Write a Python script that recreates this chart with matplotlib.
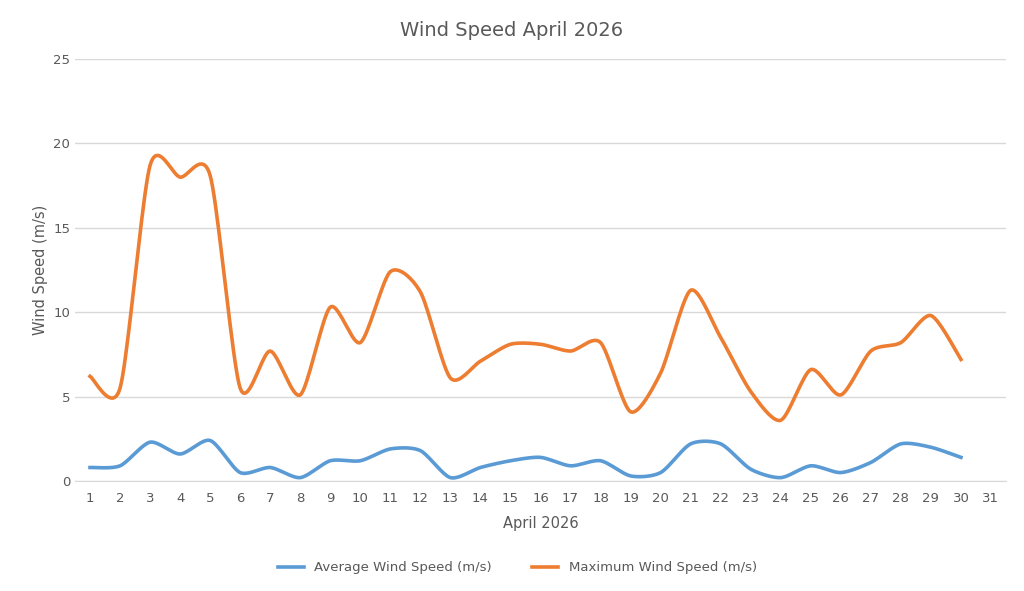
import numpy as np
import matplotlib.pyplot as plt

days = list(range(1, 31))
avg_speed = [0.8, 0.9, 2.3, 1.6, 2.4, 0.5, 0.8, 0.2, 1.2, 1.2, 1.9, 1.8, 0.2, 0.8, 1.2,
             1.4, 0.9, 1.2, 0.3, 0.5, 2.2, 2.2, 0.7, 0.2, 0.9, 0.5, 1.1, 2.2, 2.0, 1.4]
max_speed = [6.2, 5.5, 18.7, 18.0, 18.1, 5.5, 7.7, 5.1, 10.3, 8.2, 12.4, 11.2, 6.1, 7.1, 8.1,
             8.1, 7.7, 8.2, 4.1, 6.4, 11.3, 8.5, 5.3, 3.6, 6.6, 5.1, 7.7, 8.2, 9.8, 7.2]
tick_labels = [str(d) for d in range(1, 32)]


def smooth(x, y, n=20, k=0.13):
    # Catmull-Rom style smoothing like Excel's "smoothed line"
    x = np.asarray(x, float)
    y = np.asarray(y, float)
    px = np.concatenate([[x[0]], x, [x[-1]]])
    py = np.concatenate([[y[0]], y, [y[-1]]])
    xs, ys = [], []
    t = np.linspace(0, 1, n, endpoint=False)
    for i in range(1, len(px) - 2):
        p0, p1, p2, p3 = [np.array([px[j], py[j]]) for j in (i - 1, i, i + 1, i + 2)]
        c1 = p1 + (p2 - p0) * k
        c2 = p2 - (p3 - p1) * k
        pts = ((1 - t) ** 3)[:, None] * p1 + (3 * (1 - t) ** 2 * t)[:, None] * c1 \
            + (3 * (1 - t) * t ** 2)[:, None] * c2 + (t ** 3)[:, None] * p2
        xs.extend(pts[:, 0])
        ys.extend(pts[:, 1])
    xs.append(x[-1])
    ys.append(y[-1])
    return xs, ys


fig = plt.figure(figsize=(10.24, 5.91), dpi=100)
ax = fig.add_axes([75 / 1024, 1 - 481 / 591, 931 / 1024, 422 / 591])

grey = "#595959"
ax.plot(*smooth(days, avg_speed), color="#5B9BD5", lw=2.6, label="Average Wind Speed (m/s)")
ax.plot(*smooth(days, max_speed), color="#ED7D31", lw=2.6, label="Maximum Wind Speed (m/s)")

ax.set_xlim(0.5, 31.5)
ax.set_ylim(0, 25)
ax.set_xticks(range(1, 32))
ax.set_xticklabels(tick_labels)
ax.set_yticks(range(0, 26, 5))
ax.tick_params(length=0, colors=grey, labelsize=9.5)
ax.tick_params(axis="x", pad=8)
ax.grid(axis="y", color="#d9d9d9", lw=1)
ax.set_axisbelow(True)
for s in ["top", "right", "left"]:
    ax.spines[s].set_visible(False)
ax.spines["bottom"].set_color("#d9d9d9")

ax.set_xlabel("April 2026", color=grey, fontsize=10.5, labelpad=8)
ax.set_ylabel("Wind Speed (m/s)", color=grey, fontsize=10.5)
fig.suptitle("Wind Speed April 2026", color=grey, fontsize=14, y=0.965)
fig.legend(loc="lower center", ncol=2, frameon=False, fontsize=9.5, labelcolor=grey,
           bbox_to_anchor=(0.505, 0.008), columnspacing=3)

fig.savefig("out.png")
